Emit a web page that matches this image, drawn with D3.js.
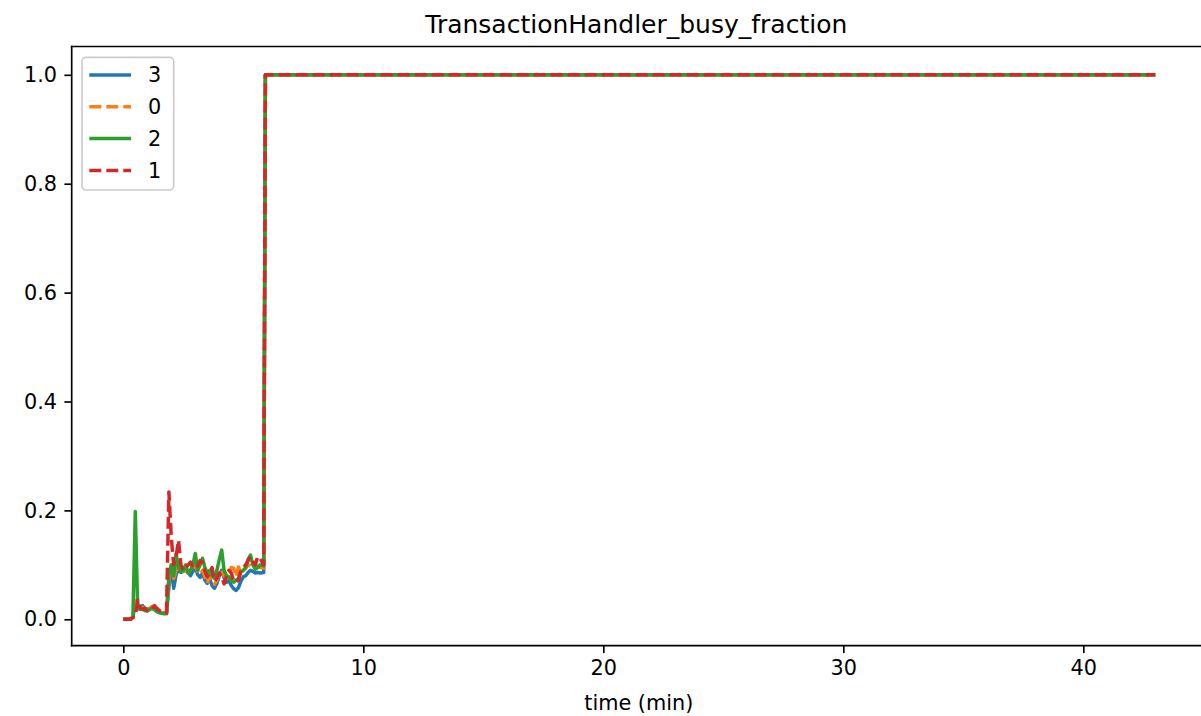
<!DOCTYPE html>
<html><head><meta charset="utf-8">
<script src="https://cdn.jsdelivr.net/npm/d3@7"></script>
<style>body{margin:0;background:#fff}svg{display:block;font-family:"DejaVu Sans",sans-serif}</style>
</head><body><svg id="c" width="1201" height="716"></svg>
<script>
const title = "TransactionHandler_busy_fraction";
const xLabel = "time (min)";
const time = [0.0,0.1,0.2,0.3,0.4,0.5,0.6,0.7,0.8,0.9,
  1.0,1.1,1.2,1.3,1.4,1.5,1.6,1.7,1.8,1.9,
  2.0,2.1,2.2,2.3,2.4,2.5,2.6,2.7,2.8,2.9,
  3.0,3.1,3.2,3.3,3.4,3.5,3.6,3.7,3.8,3.9,
  4.0,4.1,4.2,4.3,4.4,4.5,4.6,4.7,4.8,4.9,
  5.0,5.1,5.2,5.3,5.4,5.5,5.6,5.7,5.85,5.92,43.0];
const seriesNames = ["3","0","2","1"];
const s3 = [0,0,0,0,0.004,0.03,0.028,0.022,0.025,0.02,
  0.018,0.02,0.022,0.018,0.015,0.013,0.012,0.011,0.011,0.06,
  0.095,0.057,0.082,0.092,0.086,0.088,0.09,0.086,0.08,0.088,
  0.095,0.082,0.077,0.085,0.072,0.066,0.074,0.062,0.057,0.066,
  0.08,0.09,0.076,0.068,0.071,0.062,0.056,0.053,0.058,0.07,
  0.078,0.08,0.086,0.09,0.088,0.085,0.086,0.085,0.086,1,1];
const s0 = [0,0,0,0,0.003,0.04,0.025,0.02,0.022,0.018,
  0.016,0.02,0.024,0.02,0.016,0.013,0.012,0.011,0.011,0.07,
  0.1,0.075,0.09,0.095,0.09,0.088,0.092,0.085,0.09,0.094,
  0.1,0.088,0.082,0.09,0.078,0.066,0.08,0.07,0.064,0.072,
  0.085,0.09,0.08,0.075,0.082,0.095,0.094,0.078,0.096,0.085,
  0.09,0.094,0.1,0.098,0.095,0.1,0.098,0.095,0.094,1,1];
const s2 = [0,0,0,0,0.005,0.198,0.02,0.018,0.02,0.016,
  0.015,0.018,0.02,0.018,0.014,0.012,0.011,0.01,0.01,0.08,
  0.1,0.08,0.12,0.095,0.088,0.09,0.1,0.085,0.09,0.1,
  0.121,0.09,0.1,0.112,0.095,0.085,0.09,0.08,0.075,0.09,
  0.11,0.127,0.09,0.08,0.078,0.07,0.068,0.072,0.075,0.088,
  0.09,0.095,0.11,0.118,0.1,0.092,0.095,0.1,0.098,1,1];
const s1 = [0,0,0,0,0.003,0.006,0.035,0.022,0.018,0.02,
  0.016,0.018,0.02,0.025,0.02,0.016,0.014,0.012,0.012,0.234,
  0.15,0.1,0.115,0.145,0.1,0.09,0.095,0.1,0.105,0.095,
  0.1,0.098,0.108,0.105,0.088,0.078,0.085,0.095,0.07,0.075,
  0.085,0.078,0.065,0.08,0.09,0.085,0.07,0.068,0.072,0.09,
  0.095,0.1,0.108,0.115,0.105,0.1,0.115,0.112,0.1,1,1];
const xTicks = [0,10,20,30,40];
const yTicks = [0.0,0.2,0.4,0.6,0.8,1.0];

const seriesValues = [s3,s0,s2,s1];
const colors = ["#1f77b4","#ff7f0e","#2ca02c","#d62728"];
const dashed = [false,true,false,true];

const svg = d3.select("#c");
const L = 71.7, R = 1206.9, T = 46.5, B = 645.7;
const x = d3.scaleLinear().domain([-2.15, 45.15]).range([L, R]);
const y = d3.scaleLinear().domain([-0.0485, 1.052]).range([B, T]);

const fs = 20.8, tickLen = 7.3, lw = 3.5;

// lines
const line = d3.line().x((d,i)=>x(time[i])).y(d=>y(d));
const g = svg.append("g");
seriesValues.forEach((vals,k)=>{
  g.append("path").attr("d", line(vals)).attr("fill","none")
    .attr("stroke", colors[k]).attr("stroke-width", lw)
    .attr("stroke-linejoin","round")
    .attr("stroke-dasharray", dashed[k] ? "12,5" : null);
});

// spines
const spineW = 1.67;
svg.append("line").attr("x1",L).attr("x2",L).attr("y1",T).attr("y2",B).attr("stroke","#000").attr("stroke-width",spineW).attr("stroke-linecap","square");
svg.append("line").attr("x1",L).attr("x2",R).attr("y1",B).attr("y2",B).attr("stroke","#000").attr("stroke-width",spineW).attr("stroke-linecap","square");
svg.append("line").attr("x1",L).attr("x2",R).attr("y1",T).attr("y2",T).attr("stroke","#000").attr("stroke-width",spineW).attr("stroke-linecap","square");
svg.append("line").attr("x1",R).attr("x2",R).attr("y1",T).attr("y2",B).attr("stroke","#000").attr("stroke-width",spineW);

// axes via d3
const xAxis = d3.axisBottom(x).tickValues(xTicks).tickFormat(d3.format("d")).tickSizeInner(tickLen).tickSizeOuter(0).tickPadding(7.3);
const gx = svg.append("g").attr("transform",`translate(0,${B})`).call(xAxis);
const yAxis = d3.axisLeft(y).tickValues(yTicks).tickFormat(d3.format(".1f")).tickSizeInner(tickLen).tickSizeOuter(0).tickPadding(7.3);
const gy = svg.append("g").attr("transform",`translate(${L},0)`).call(yAxis);
[gx,gy].forEach(a=>{
  a.select(".domain").remove();
  a.selectAll(".tick line").attr("stroke","#000").attr("stroke-width",spineW);
  a.selectAll(".tick text").attr("fill","#000").style("font-size",fs+"px").style("font-family","DejaVu Sans");
});

// title & label
svg.append("text").attr("x",(L+R)/2 - 3).attr("y",33).attr("text-anchor","middle")
  .style("font-size","25px").attr("fill","#000").text(title);
svg.append("text").attr("x",(L+R)/2 - 0.5).attr("y",710).attr("text-anchor","middle")
  .style("font-size",fs+"px").attr("fill","#000").text(xLabel);

// legend
const lg = svg.append("g");
lg.append("rect").attr("x",82).attr("y",57.3).attr("width",91.7).attr("height",132.7)
  .attr("rx",4).attr("fill","#fff").attr("fill-opacity",0.8).attr("stroke","#cccccc").attr("stroke-width",1.67);
seriesNames.forEach((n,k)=>{
  const yy = 75 + k*31.8;
  lg.append("line").attr("x1",89.3).attr("x2",131).attr("y1",yy).attr("y2",yy)
    .attr("stroke",colors[k]).attr("stroke-width",lw)
    .attr("stroke-dasharray", dashed[k] ? "12,5" : null);
  lg.append("text").attr("x",148).attr("y",yy).attr("dy","0.36em")
    .style("font-size",fs+"px").attr("fill","#000").text(n);
});
</script></body></html>
